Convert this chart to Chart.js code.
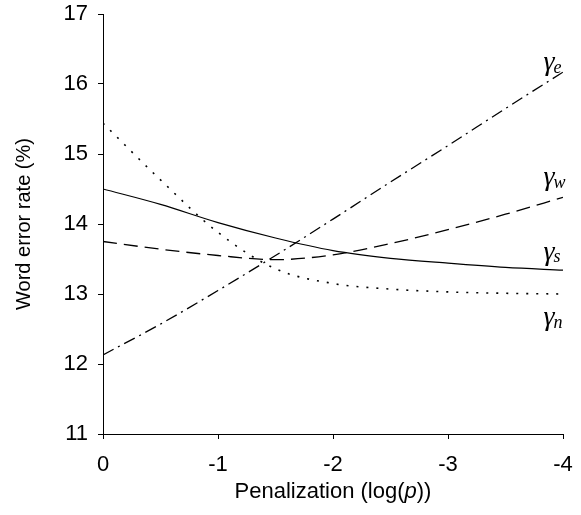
<!DOCTYPE html>
<html>
<head>
<meta charset="utf-8">
<script src="https://cdn.jsdelivr.net/npm/chart.js@4"></script>
<style>
  html, body { margin: 0; padding: 0; background: #fff; }
  #wrap { width: 581px; height: 515px; }
</style>
</head>
<body>
<div id="wrap"><canvas id="grafico" width="581" height="515"></canvas></div>
<script>
// dados
const penalizacao = [0, -0.5, -1, -1.5, -2, -2.5, -3, -3.5, -4];
const gammaS = [14.50, 14.28, 14.02, 13.80, 13.62, 13.51, 13.44, 13.38, 13.34];
const gammaW = [13.75, 13.64, 13.55, 13.49, 13.56, 13.72, 13.92, 14.14, 14.38];
const gammaN = [15.44, 14.63, 13.88, 13.36, 13.15, 13.07, 13.03, 13.01, 13.00];
const gammaE = [12.13, 12.57, 13.05, 13.55, 14.07, 14.60, 15.12, 15.65, 16.17];
const yTicks = [11, 12, 13, 14, 15, 16, 17];
const xTicks = [0, -1, -2, -3, -4];

// rótulos das curvas (letra do subscrito, posição em unidades dos eixos)
const rotulos = [
  { sub: "e", x: -3.83, y: 16.30 },
  { sub: "w", x: -3.83, y: 14.66 },
  { sub: "s", x: -3.83, y: 13.59 },
  { sub: "n", x: -3.83, y: 12.66 }
];

function pontos(valores) {
  return penalizacao.map((x, i) => ({ x: x, y: valores[i] }));
}

function serie(valores, tracejado, largura) {
  return {
    data: pontos(valores),
    borderColor: "#000",
    borderWidth: largura,
    borderDash: tracejado,
    pointRadius: 0,
    fill: false,
    cubicInterpolationMode: "monotone"
  };
}

const fonte = "'Liberation Sans', Arial, sans-serif";

const pluginRotulos = {
  id: "rotulos",
  afterDatasetsDraw(chart) {
    const ctx = chart.ctx;
    const sx = chart.scales.x;
    const sy = chart.scales.y;
    ctx.save();
    ctx.fillStyle = "#000";
    ctx.textBaseline = "middle";
    rotulos.forEach((r) => {
      const px = sx.getPixelForValue(r.x);
      const py = sy.getPixelForValue(r.y);
      ctx.font = "italic 28px 'Liberation Serif', serif";
      ctx.textAlign = "left";
      ctx.fillText("γ", px, py);
      const w = ctx.measureText("γ").width;
      ctx.font = "italic 18px 'Liberation Serif', serif";
      ctx.fillText(r.sub, px + w - 1, py + 5);
    });

    // título do eixo x com o p em itálico
    const partes = [["Penalization (log(", ""], ["p", "italic "], ["))", ""]];
    ctx.textBaseline = "alphabetic";
    let total = 0;
    partes.forEach((p) => {
      ctx.font = p[1] + "22px " + fonte;
      total += ctx.measureText(p[0]).width;
    });
    let x0 = (chart.chartArea.left + chart.chartArea.right) / 2 - total / 2;
    partes.forEach((p) => {
      ctx.font = p[1] + "22px " + fonte;
      ctx.fillText(p[0], x0, 498);
      x0 += ctx.measureText(p[0]).width;
    });
    ctx.restore();
  }
};

new Chart(document.getElementById("grafico").getContext("2d"), {
  type: "line",
  data: {
    datasets: [
      serie(gammaS, [], 1.2),
      serie(gammaW, [14, 7], 1.3),
      serie(gammaN, [2, 8], 1.6),
      serie(gammaE, [12, 5, 2, 5], 1.3)
    ]
  },
  options: {
    responsive: false,
    animation: false,
    layout: { padding: { top: 14, right: 18, left: 0, bottom: 0 } },
    plugins: {
      legend: { display: false },
      tooltip: { enabled: false }
    },
    scales: {
      x: {
        type: "linear",
        reverse: true,
        min: -4,
        max: 0,
        afterBuildTicks: (s) => { s.ticks = xTicks.map((v) => ({ value: v })); },
        afterFit: (s) => { s.height = 81; s.paddingLeft = 0; s.paddingRight = 0; },
        grid: { display: true, drawOnChartArea: false, drawTicks: true, tickLength: 5, color: "#000" },
        border: { color: "#000", width: 1 },
        ticks: {
          color: "#000",
          font: { family: fonte, size: 22 },
          padding: 13,
          maxRotation: 0
        }
      },
      y: {
        min: 11,
        max: 17,
        afterBuildTicks: (s) => { s.ticks = yTicks.map((v) => ({ value: v })); },
        afterFit: (s) => { s.width = 103; s.paddingTop = 0; s.paddingBottom = 0; },
        grid: { display: true, drawOnChartArea: false, drawTicks: true, tickLength: 5, color: "#000" },
        border: { color: "#000", width: 1 },
        ticks: {
          color: "#000",
          font: { family: fonte, size: 22 },
          padding: 10
        },
        title: {
          display: true,
          text: "Word error rate (%)",
          color: "#000",
          font: { family: fonte, size: 20 },
          padding: { top: 12, bottom: 0 }
        }
      }
    }
  },
  plugins: [pluginRotulos]
});
</script>
</body>
</html>
